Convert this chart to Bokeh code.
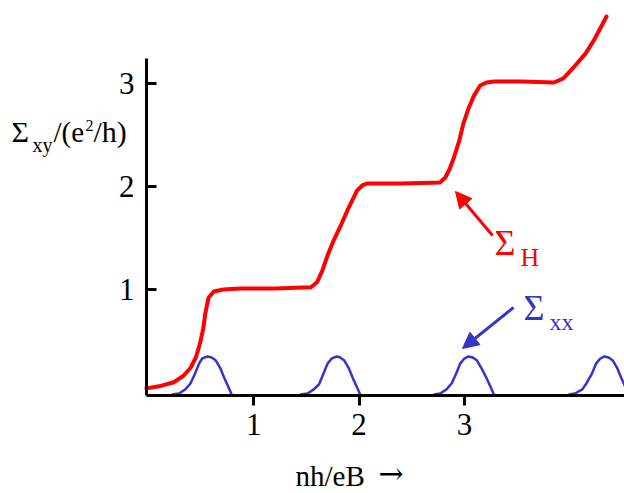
from bokeh.plotting import figure
from bokeh.models import Range1d, FixedTicker, Label, Arrow, NormalHead
from bokeh.embed import file_html
from bokeh.resources import INLINE

# Hall conductance (red staircase)
hall_x = [-0.02, 0.10, 0.24, 0.33, 0.40, 0.45, 0.49, 0.52, 0.54, 0.57, 0.62, 0.71, 0.87, 1.20, 1.47,
          1.54, 1.60, 1.65, 1.70, 1.76, 1.83, 1.89, 1.98, 2.03, 2.08, 2.40, 2.77, 2.82, 2.86, 2.90,
          2.95, 2.99, 3.04, 3.09, 3.15, 3.21, 3.28, 3.55, 3.85, 3.94, 4.04, 4.15, 4.23, 4.35]
hall_y = [0.04, 0.06, 0.10, 0.16, 0.24, 0.34, 0.48, 0.62, 0.77, 0.92, 0.98, 1.00, 1.01, 1.01, 1.02,
          1.02, 1.07, 1.18, 1.33, 1.48, 1.63, 1.77, 1.96, 2.01, 2.03, 2.03, 2.04, 2.09, 2.17, 2.28,
          2.44, 2.61, 2.76, 2.88, 2.98, 3.01, 3.02, 3.02, 3.01, 3.05, 3.16, 3.29, 3.42, 3.65]

# Longitudinal conductance bumps (blue)
bump1_x = [0.22, 0.29, 0.35, 0.40, 0.44, 0.48, 0.51, 0.56, 0.60, 0.64, 0.68, 0.72, 0.76, 0.79]
bump1_y = [-0.02, -0.01, 0.03, 0.09, 0.18, 0.28, 0.33, 0.35, 0.34, 0.31, 0.24, 0.14, 0.05, -0.02]
bump2_x = [1.44, 1.51, 1.57, 1.62, 1.66, 1.70, 1.74, 1.79, 1.82, 1.86, 1.90, 1.94, 1.98, 2.01]
bump2_y = [-0.02, -0.01, 0.03, 0.08, 0.18, 0.28, 0.33, 0.35, 0.34, 0.31, 0.24, 0.14, 0.05, -0.02]
bump3_x = [2.71, 2.77, 2.83, 2.88, 2.92, 2.96, 3.00, 3.04, 3.08, 3.12, 3.16, 3.21, 3.25, 3.28]
bump3_y = [-0.02, -0.01, 0.03, 0.09, 0.18, 0.28, 0.33, 0.35, 0.34, 0.31, 0.24, 0.14, 0.05, -0.02]
bump4_x = [3.99, 4.05, 4.12, 4.16, 4.21, 4.25, 4.29, 4.33, 4.37, 4.41, 4.45, 4.49, 4.53, 4.56]
bump4_y = [-0.02, -0.01, 0.03, 0.09, 0.18, 0.28, 0.33, 0.35, 0.34, 0.31, 0.24, 0.14, 0.05, -0.02]

x_ticks = [1, 2, 3]
y_ticks = [1, 2, 3]

RED = "#FF0000"
BLUE = "#3535C8"
FONT = "Liberation Serif"

# page-pixel <-> data mapping (frame fills the whole canvas)
X0_PX, X_SCALE = 148.0, 105.3
Y0_PX, Y_SCALE = 392.0, 103.0
W, H = 624, 493

def dx(px):
    return (px - X0_PX) / X_SCALE

def dy(py):
    return (Y0_PX - py) / Y_SCALE

p = figure(width=W, height=H, output_backend="svg", toolbar_location=None,
           x_range=Range1d(dx(0), dx(W)), y_range=Range1d(dy(H), dy(0)),
           min_border_left=0, min_border_right=0, min_border_top=0, min_border_bottom=0)
p.outline_line_color = None
p.grid.visible = False
p.background_fill_color = "white"
p.border_fill_color = "white"

for ax in (p.xaxis[0], p.yaxis[0]):
    ax.axis_line_width = 3
    ax.axis_line_color = "black"
    ax.major_tick_line_width = 3
    ax.major_tick_line_color = "black"
    ax.minor_tick_line_color = None
    ax.major_label_text_font = FONT
    ax.major_label_text_font_size = "31px"
    ax.major_label_text_color = "black"

x_axis_y = dy(395)
y_axis_x = dx(146)

p.xaxis.ticker = FixedTicker(ticks=x_ticks)
p.xaxis.major_tick_in = 0
p.xaxis.major_tick_out = 10
p.xaxis.major_label_standoff = 8
p.xaxis.fixed_location = x_axis_y
p.xaxis.bounds = (y_axis_x, dx(W + 5))

p.yaxis.ticker = FixedTicker(ticks=y_ticks)
p.yaxis.major_tick_in = 10
p.yaxis.major_tick_out = 0
p.yaxis.major_label_standoff = 12
p.yaxis.fixed_location = y_axis_x
p.yaxis.bounds = (x_axis_y, dy(58))

p.line(hall_x, hall_y, line_color=RED, line_width=4, line_join="round", line_cap="round")
for bx, by in ((bump1_x, bump1_y), (bump2_x, bump2_y), (bump3_x, bump3_y), (bump4_x, bump4_y)):
    p.line(bx, by, line_color=BLUE, line_width=2.5, line_join="round")

def lab(px, py, text, size, color="black", font=FONT):
    # px, py: page position of the text's left end on its baseline (corrected for renderer offset)
    py_adj = py - 0.3 * size
    p.add_layout(Label(x=dx(px), y=dy(py_adj), text=text, text_font=font, text_font_size=f"{size}px",
                       text_color=color, text_baseline="alphabetic", text_align="left"))

# y-axis label  Σxy/(e²/h)
lab(11, 140, "Σ", 30)
lab(32, 150, "xy", 20)
lab(53, 140, "/(e", 29)
lab(85, 130, "2", 16)
lab(93, 140, "/h)", 30)

# x-axis label
lab(295, 484, "nh/eB", 29)
lab(378, 482, "→", 30, font="DejaVu Serif")

# annotations
lab(494, 253, "Σ", 36, RED)
lab(520, 265, "H", 26, RED)
lab(523, 318, "Σ", 36, BLUE)
lab(549, 329, "xx", 24, BLUE)

p.add_layout(Arrow(end=NormalHead(size=16, fill_color=RED, line_color=RED),
                   x_start=dx(492), y_start=dy(235), x_end=dx(455), y_end=dy(191),
                   line_color=RED, line_width=3))
p.add_layout(Arrow(end=NormalHead(size=16, fill_color=BLUE, line_color=BLUE),
                   x_start=dx(513), y_start=dy(307), x_end=dx(462), y_end=dy(348),
                   line_color=BLUE, line_width=3))

open("out.html", "w").write(file_html(p, INLINE))
